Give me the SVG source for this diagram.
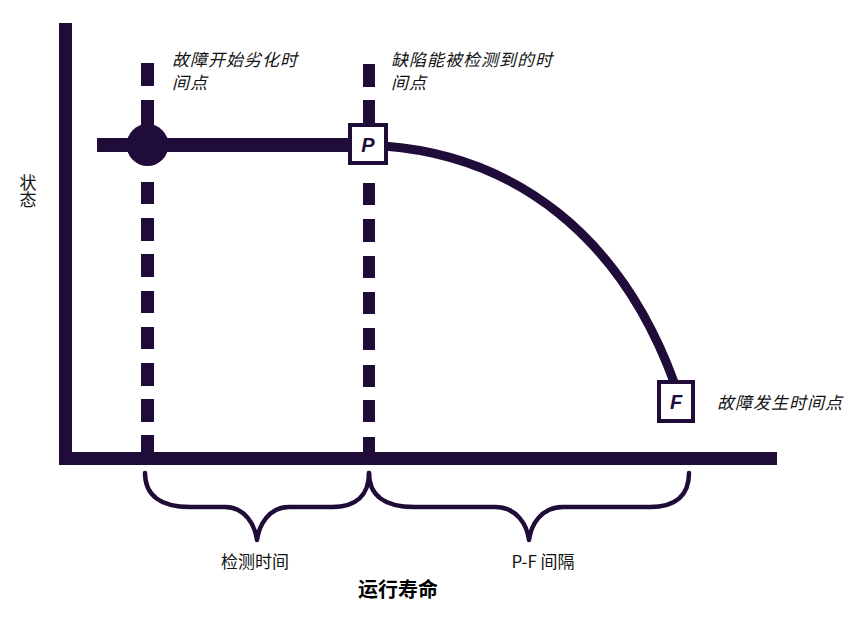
<svg xmlns="http://www.w3.org/2000/svg" width="865" height="635" viewBox="0 0 865 635">
<style>
.ink{fill:#200c38}
.dash{fill:#200c38}
.brace{fill:none;stroke:#200c38;stroke-width:4.5;stroke-linecap:round;stroke-linejoin:round}
.lbl{font-family:"Noto Sans CJK SC","Noto Sans",sans-serif;font-size:17px;fill:#111}
.it{font-style:italic;letter-spacing:1px}
.box{fill:#fff;stroke:#200c38;stroke-width:4}
.letter{font-family:"Liberation Sans",Arial,sans-serif;font-weight:bold;font-style:italic;font-size:20px;fill:#200c38;text-anchor:middle}
</style>
<rect width="865" height="635" fill="#fff"/>
<g id="axes">
<rect class="ink" x="59" y="23" width="13" height="442"/>
<rect class="ink" x="59" y="452" width="718" height="13"/>
</g>
<g id="connectors">
<g id="dash-left">
<rect class="dash" x="141" y="63" width="13" height="23"/>
<rect class="dash" x="141" y="100" width="13" height="30"/>
<rect class="dash" x="141" y="182" width="13" height="22"/>
<rect class="dash" x="141" y="218" width="13" height="23"/>
<rect class="dash" x="141" y="254" width="13" height="23"/>
<rect class="dash" x="141" y="291" width="13" height="22"/>
<rect class="dash" x="141" y="327" width="13" height="22"/>
<rect class="dash" x="141" y="363" width="13" height="23"/>
<rect class="dash" x="141" y="399" width="13" height="23"/>
<rect class="dash" x="141" y="435" width="13" height="20"/>
</g>
<g id="dash-right">
<rect class="dash" x="363" y="64" width="12" height="23"/>
<rect class="dash" x="363" y="100" width="12" height="25"/>
<rect class="dash" x="363" y="183" width="12" height="22"/>
<rect class="dash" x="363" y="219" width="12" height="23"/>
<rect class="dash" x="363" y="256" width="12" height="22"/>
<rect class="dash" x="363" y="292" width="12" height="22"/>
<rect class="dash" x="363" y="328" width="12" height="22"/>
<rect class="dash" x="363" y="365" width="12" height="22"/>
<rect class="dash" x="363" y="400" width="12" height="22"/>
<rect class="dash" x="363" y="437" width="12" height="18"/>
</g>
<rect class="ink" x="97" y="138" width="260" height="14"/>
<path d="M384,146 C515,156 620,235 674,382" fill="none" stroke="#200c38" stroke-width="9"/>
<path class="brace" d="M145,473 C145,495 160,507 190,507 L225,507 C245,507 255,525 257,540 C259,525 269,507 289,507 L332,507 C356,507 369,495 369,473"/>
<path class="brace" d="M369,473 C369,495 384,507 414,507 L495,507 C517,507 527,525 529,540 C531,525 541,507 563,507 L650,507 C676,507 689,495 689,473"/>
</g>
<g id="node-start">
<circle class="ink" cx="147.5" cy="145" r="21"/>
</g>
<g id="node-P">
<rect class="box" x="350" y="125" width="36" height="38"/>
<text class="letter" x="368" y="152">P</text>
</g>
<g id="node-F">
<rect class="box" x="659" y="382" width="34" height="39"/>
<text class="letter" x="676" y="409">F</text>
</g>
<g id="labels">
<text class="lbl it" x="172" y="66">故障开始劣化时</text>
<text class="lbl it" x="172" y="89">间点</text>
<text class="lbl it" x="391" y="66">缺陷能被检测到的时</text>
<text class="lbl it" x="391" y="89">间点</text>
<text class="lbl it" x="717" y="409">故障发生时间点</text>
<text class="lbl" x="28" y="174" style="writing-mode:vertical-rl">状态</text>
<text class="lbl" x="255" y="568" text-anchor="middle">检测时间</text>
<text class="lbl" x="543" y="568" text-anchor="middle">P-F 间隔</text>
<text class="lbl" x="398" y="597" text-anchor="middle" style="font-weight:bold;font-size:20px;fill:#000">运行寿命</text>
</g>
</svg>
